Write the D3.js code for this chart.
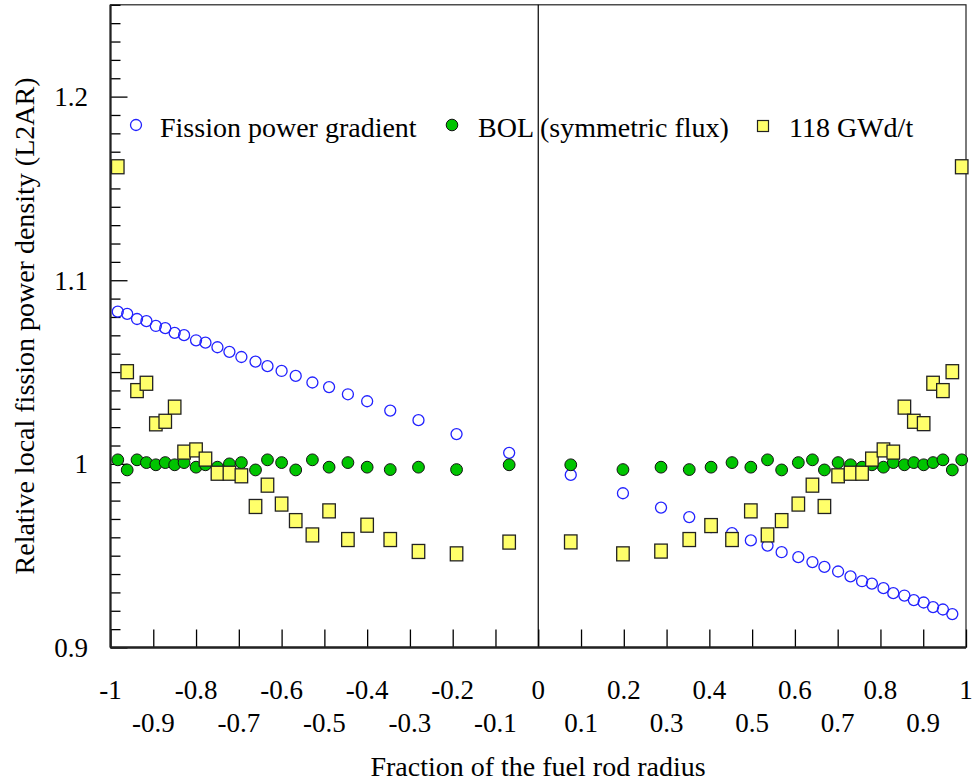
<!DOCTYPE html>
<html>
<head>
<meta charset="utf-8">
<script src="https://cdn.jsdelivr.net/npm/d3@7"></script>
<style>
  html, body { margin: 0; padding: 0; background: #fff; }
  svg { display: block; }
  text { font-family: "Liberation Serif", "Times New Roman", serif; fill: #000; }
</style>
</head>
<body>
<svg id="chart" width="976" height="782"></svg>
<script>
// ---- Data ----
const radius = [
  -0.983,-0.961,-0.938,-0.916,-0.894,-0.872,-0.850,-0.828,-0.800,-0.778,-0.750,-0.722,-0.694,
  -0.661,-0.633,-0.600,-0.567,-0.528,-0.489,-0.445,-0.400,-0.346,-0.280,-0.191,-0.068,
  0.076,0.198,0.287,0.353,0.404,0.453,0.497,0.536,0.569,0.608,0.641,0.669,0.701,
  0.730,0.757,0.780,0.807,0.830,0.856,0.878,0.901,0.923,0.946,0.968,0.990
];
const fissionGradient = [
  1.0829,1.0817,1.0789,1.0777,1.0751,1.0739,1.0713,1.0701,1.0673,1.0660,1.0635,1.0610,1.0582,
  1.0557,1.0532,1.0506,1.0479,1.0443,1.0418,1.0379,1.0341,1.0290,1.0238,1.0162,1.0060,
  0.9940,0.9840,0.9762,0.9710,0.9655,0.9623,0.9583,0.9555,0.9519,0.9492,0.9465,0.9439,0.9414,
  0.9387,0.9361,0.9348,0.9323,0.9296,0.9283,0.9258,0.9245,0.9220,0.9207,0.9182,null
];
const bolSymmetric = [
  1.0022,0.9967,1.0022,1.0007,0.9995,1.0007,0.9995,1.0007,0.9982,0.9995,0.9982,1.0000,1.0007,
  0.9967,1.0022,1.0007,0.9967,1.0022,0.9982,1.0007,0.9982,0.9969,0.9982,0.9969,0.9995,
  0.9995,0.9969,0.9982,0.9969,0.9982,1.0007,0.9982,1.0022,0.9967,1.0007,1.0022,0.9967,1.0007,
  0.9995,0.9982,0.9995,0.9982,1.0007,0.9995,1.0007,0.9995,1.0007,1.0022,0.9967,1.0022
];
const burnup118 = [
  1.1618,1.0502,1.0399,1.0439,1.0218,1.0232,1.0309,1.0064,1.0076,1.0026,0.9949,0.9949,0.9935,
  0.9768,0.9884,0.9781,0.9691,0.9613,0.9744,0.9588,0.9666,0.9588,0.9523,0.9510,0.9574,
  0.9575,0.9510,0.9525,0.9588,0.9664,0.9588,0.9744,0.9613,0.9691,0.9781,0.9884,0.9768,0.9935,
  0.9949,0.9949,1.0026,1.0076,1.0064,1.0309,1.0232,1.0219,1.0439,1.0399,1.0502,1.1618
];
const xTickValues = [-1,-0.9,-0.8,-0.7,-0.6,-0.5,-0.4,-0.3,-0.2,-0.1,0,0.1,0.2,0.3,0.4,0.5,0.6,0.7,0.8,0.9,1];
const yMajorTicks = [0.9, 1.0, 1.1, 1.2];
const yTickLabels = ["0.9", "1", "1.1", "1.2"];
const seriesNames = ["Fission power gradient", "BOL (symmetric flux)", "118 GWd/t"];
const xTitle = "Fraction of the fuel rod radius";
const yTitle = "Relative local fission power density (L2AR)";

// ---- Layout ----
const svg = d3.select("#chart");
const L = 110.5, R = 966, T = 4.8, B = 647.5;
const x = d3.scaleLinear().domain([-1, 1]).range([L, R]);
const y = d3.scaleLinear().domain([0.9, 1.25]).range([B, T]);

// Frame
svg.append("rect").attr("x", L).attr("y", T).attr("width", R - L).attr("height", B - T)
  .attr("fill", "none").attr("stroke", "#222").attr("stroke-width", 1.2);

// Vertical line at x = 0
svg.append("line").attr("x1", x(0)).attr("x2", x(0)).attr("y1", T).attr("y2", B)
  .attr("stroke", "#000").attr("stroke-width", 1.2);

// Y axis (inward ticks)
const yMinor = d3.range(0, 36).map(i => +(0.9 + i * 0.01).toFixed(2));
const yAxisMinor = d3.axisRight(y).tickValues(yMinor.filter(v => !yMajorTicks.some(m => Math.abs(m - v) < 1e-9)))
  .tickSize(10).tickFormat("");
const gYm = svg.append("g").attr("transform", `translate(${L},0)`).call(yAxisMinor);
gYm.select(".domain").remove();
const yAxisMajor = d3.axisRight(y).tickValues(yMajorTicks).tickSize(17).tickFormat("");
const gYM = svg.append("g").attr("transform", `translate(${L},0)`).call(yAxisMajor);
gYM.select(".domain").remove();
svg.selectAll(".tick line").attr("stroke", "#000").attr("stroke-width", 1.3);

// Y tick labels
svg.append("g").selectAll("text").data(yMajorTicks).join("text")
  .attr("x", 88).attr("y", d => y(d)).attr("dy", "0.35em")
  .attr("text-anchor", "end").attr("font-size", 27)
  .text((d, i) => yTickLabels[i]);

// X axis (inward ticks)
const xAxis = d3.axisTop(x).tickValues(xTickValues).tickSize(18).tickFormat("");
const gX = svg.append("g").attr("transform", `translate(0,${B})`).call(xAxis);
gX.select(".domain").remove();
gX.selectAll(".tick line").attr("stroke", "#000").attr("stroke-width", 1.3);

// X tick labels in two rows
svg.append("g").selectAll("text").data(xTickValues).join("text")
  .attr("x", d => x(d))
  .attr("y", (d, i) => (i % 2 === 0) ? 699 : 732)
  .attr("text-anchor", "middle").attr("font-size", 27)
  .text(d => d3.format("")(d).replace("−", "-"));

// Thicker left and bottom axis lines
svg.append("line").attr("x1", L).attr("x2", R).attr("y1", B).attr("y2", B)
  .attr("stroke", "#222").attr("stroke-width", 2.6);
svg.append("line").attr("x1", L).attr("x2", L).attr("y1", T).attr("y2", B)
  .attr("stroke", "#222").attr("stroke-width", 2.2);

// Axis titles
svg.append("text").attr("x", 538).attr("y", 776).attr("text-anchor", "middle")
  .attr("font-size", 28).text(xTitle);
svg.append("text").attr("transform", "translate(34,326) rotate(-90)")
  .attr("text-anchor", "middle").attr("font-size", 28).text(yTitle);

// ---- Data marks ----
const blueData = radius.map((r, i) => ({ r, v: fissionGradient[i] })).filter(d => d.v != null);
const greenData = radius.map((r, i) => ({ r, v: bolSymmetric[i] }));
const yellowData = radius.map((r, i) => ({ r, v: burnup118[i] }));

svg.append("g").selectAll("circle").data(blueData).join("circle")
  .attr("cx", d => x(d.r)).attr("cy", d => y(d.v)).attr("r", 5.5)
  .attr("fill", "none").attr("stroke", "#2222ff").attr("stroke-width", 1.3);

svg.append("g").selectAll("circle").data(greenData).join("circle")
  .attr("cx", d => x(d.r)).attr("cy", d => y(d.v)).attr("r", 5.9)
  .attr("fill", "#00c400").attr("stroke", "#111").attr("stroke-width", 1);

const sw = 12.5, sh = 14;
svg.append("g").selectAll("rect").data(yellowData).join("rect")
  .attr("x", d => x(d.r) - sw / 2).attr("y", d => y(d.v) - sh / 2)
  .attr("width", sw).attr("height", sh)
  .attr("fill", "#ffff6a").attr("stroke", "#222").attr("stroke-width", 1.3);

// ---- Legend ----
const legendItems = [
  { name: seriesNames[0], kind: "open", mx: 136, tx: 160 },
  { name: seriesNames[1], kind: "dot", mx: 452, tx: 478 },
  { name: seriesNames[2], kind: "square", mx: 763, tx: 789 }
];
const lg = svg.append("g");
legendItems.forEach(it => {
  if (it.kind === "open") {
    lg.append("circle").attr("cx", it.mx).attr("cy", 125).attr("r", 5.5)
      .attr("fill", "none").attr("stroke", "#2222ff").attr("stroke-width", 1.3);
  } else if (it.kind === "dot") {
    lg.append("circle").attr("cx", it.mx).attr("cy", 125).attr("r", 5.8)
      .attr("fill", "#00c400").attr("stroke", "#111").attr("stroke-width", 1);
  } else {
    lg.append("rect").attr("x", it.mx - 5.5).attr("y", 120.5).attr("width", 11).attr("height", 11)
      .attr("fill", "#ffff6a").attr("stroke", "#222").attr("stroke-width", 1.2);
  }
  lg.append("text").attr("x", it.tx).attr("y", 136.5).attr("font-size", 28).text(it.name);
});
</script>
</body>
</html>
